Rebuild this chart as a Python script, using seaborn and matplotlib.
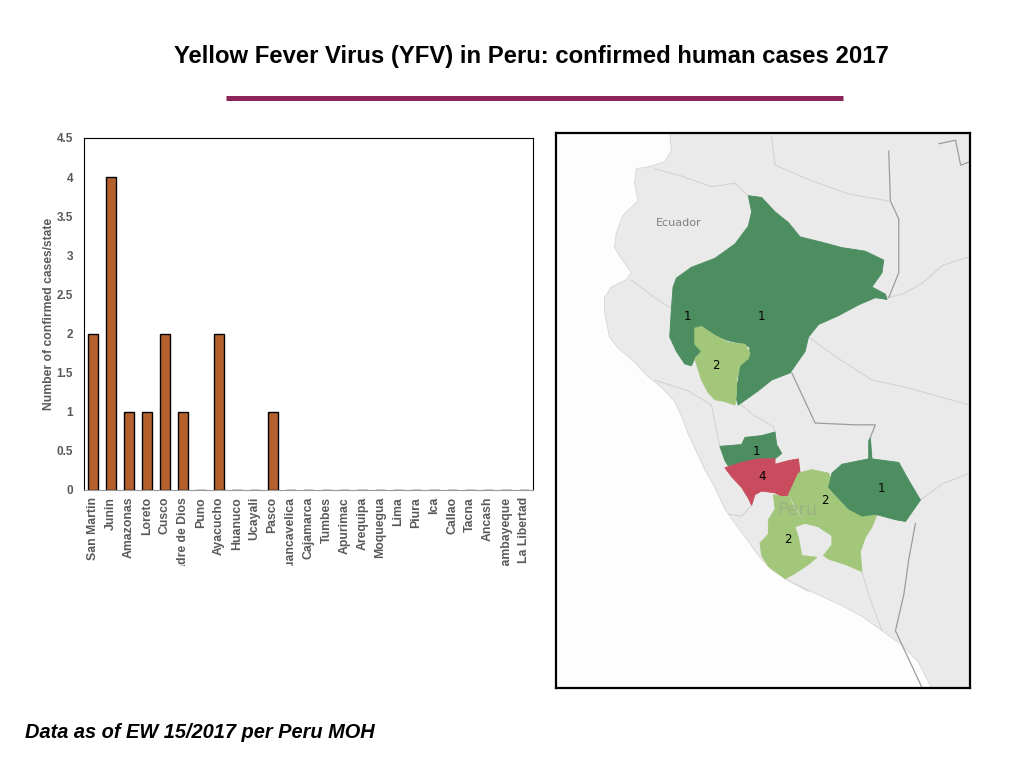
import matplotlib
matplotlib.use("Agg")
import matplotlib.pyplot as plt
import seaborn as sns
import numpy as np
import pandas as pd
from matplotlib.patches import Polygon
from matplotlib.lines import Line2D
from matplotlib.transforms import Bbox

# ---------------- data ----------------
states = ["San Martin", "Junin", "Amazonas", "Loreto", "Cusco", "Madre de Dios",
          "Puno", "Ayacucho", "Huanuco", "Ucayali", "Pasco", "Huancavelica",
          "Cajamarca", "Tumbes", "Apurimac", "Arequipa", "Moquegua", "Lima",
          "Piura", "Ica", "Callao", "Tacna", "Ancash", "Lambayeque", "La Libertad"]
cases = [2, 4, 1, 1, 2, 1, 0, 2, 0, 0, 1, 0, 0, 0, 0, 0, 0, 0, 0, 0, 0, 0, 0, 0, 0]
yticks = [0, 0.5, 1, 1.5, 2, 2.5, 3, 3.5, 4, 4.5]
title = "Yellow Fever Virus (YFV) in Peru: confirmed human cases 2017"
footer = "Data as of EW 15/2017 per Peru MOH"
ylabel = "Number of confirmed cases/state"
map_states = ["Amazonas", "Loreto", "San Martin", "Pasco", "Junin", "Cusco",
              "Ayacucho", "Madre de Dios"]
value_colors = {1: "#4D8E61", 2: "#A3C77A", 4: "#C94B5E"}

df = pd.DataFrame({"state": states, "cases": cases})
case_of = dict(zip(states, cases))

# ---------------- map geometry (schematic outlines) ----------------
shapes = {
    "Amazonas": [(365, 415), (410, 385), (430, 390), (425, 480), (430, 560), (420, 560),
                 (440, 600), (455, 620), (420, 640), (410, 660), (390, 655), (365, 620),
                 (345, 580), (350, 500), (355, 440)],
    "Loreto": [(410, 385), (480, 360), (540, 320), (580, 270), (590, 230), (580, 185),
               (620, 190), (660, 230), (700, 260), (735, 300), (800, 315), (860, 330),
               (930, 340), (985, 365), (980, 400), (950, 440), (990, 460), (995, 475),
               (960, 470), (910, 490), (850, 520), (790, 545), (760, 580), (750, 620),
               (720, 660), (705, 680), (650, 700), (610, 730), (580, 750), (550, 770),
               (540, 740), (550, 700), (555, 660), (580, 640), (585, 610), (570, 600),
               (520, 590), (480, 575), (430, 560), (425, 480), (430, 390)],
    "San Martin": [(420, 555), (440, 550), (480, 575), (520, 595), (570, 600), (585, 625),
                   (580, 640), (555, 660), (545, 700), (545, 740), (540, 770), (510, 760),
                   (480, 755), (460, 735), (440, 700), (430, 670), (420, 640), (440, 620),
                   (420, 600)],
    "Pasco": [(495, 885), (560, 880), (570, 860), (620, 855), (660, 845), (665, 880),
              (680, 905), (660, 920), (620, 920), (580, 930), (520, 940), (510, 925)],
    "Junin": [(510, 945), (560, 930), (610, 920), (660, 920), (660, 935), (700, 925),
              (730, 920), (735, 960), (725, 1000), (720, 1020), (680, 1025), (660, 1015),
              (620, 1010), (600, 1020), (590, 1050), (580, 1030), (560, 1000), (530, 970)],
    "Cusco": [(700, 1020), (730, 960), (770, 950), (820, 960), (830, 980), (820, 1000),
              (850, 1030), (880, 1060), (920, 1080), (965, 1075), (950, 1110), (930, 1140),
              (915, 1180), (920, 1235), (870, 1215), (820, 1200), (805, 1190), (830, 1160),
              (830, 1135), (790, 1110), (750, 1100), (720, 1050)],
    "Ayacucho": [(655, 1020), (680, 1025), (700, 1025), (720, 1060), (750, 1100),
                 (720, 1110), (730, 1140), (740, 1190), (785, 1195), (760, 1215),
                 (720, 1240), (690, 1255), (640, 1220), (620, 1190), (615, 1155),
                 (640, 1130), (640, 1090), (660, 1060)],
    "Madre de Dios": [(940, 870), (945, 860), (950, 920), (1030, 930), (1060, 980),
                      (1095, 1035), (1050, 1095), (1020, 1090), (960, 1075), (920, 1080),
                      (880, 1060), (850, 1030), (820, 1000), (830, 960), (860, 935),
                      (940, 920)],
}
label_pos = {"Amazonas": (397, 522), "Loreto": (620, 522), "San Martin": (483, 658),
             "Pasco": (603, 900), "Junin": (620, 970), "Cusco": (808, 1037),
             "Ayacucho": (697, 1145), "Madre de Dios": (978, 1003)}
coast = [(345, 10), (350, 60), (330, 90), (280, 105), (245, 110), (240, 150), (250, 200),
         (205, 240), (185, 290), (180, 330), (200, 360), (230, 400), (215, 420), (170, 440),
         (150, 470), (150, 510), (165, 580), (190, 610), (240, 650), (280, 690), (320, 720),
         (360, 760), (380, 800), (400, 850), (425, 900), (450, 950), (480, 1000), (510, 1060),
         (540, 1100), (580, 1150), (610, 1190), (650, 1230), (710, 1265), (790, 1300),
         (860, 1330), (920, 1360), (980, 1400), (1040, 1440), (1090, 1490), (1130, 1565),
         (1250, 1565), (1250, 5)]
dark_borders = [
    [(1000, 60), (1005, 200), (1030, 250), (1030, 400), (1000, 470)],
    [(710, 680), (740, 740), (780, 820), (900, 825), (960, 825), (945, 860)],
    [(1080, 1100), (1060, 1200), (1045, 1300), (1020, 1400), (1060, 1480), (1100, 1560)],
    [(1150, 40), (1200, 30), (1215, 100), (1243, 90)],
]
light_borders = [
    [(300, 110), (380, 130), (470, 160), (540, 150), (580, 185)],
    [(230, 420), (300, 470), (350, 500)],
    [(995, 470), (1040, 460), (1100, 430), (1160, 380), (1243, 355)],
    [(760, 580), (850, 640), (950, 700), (1050, 720), (1243, 770)],
    [(560, 770), (600, 800), (655, 830), (660, 845)],
    [(1095, 1035), (1160, 990), (1243, 960)],
    [(300, 700), (400, 730), (470, 770), (495, 885)],
    [(590, 1050), (560, 1080), (520, 1075)],
    [(920, 1235), (940, 1300), (980, 1400)],
    [(690, 1255), (760, 1290)],
    [(650, 20), (660, 100), (760, 140), (880, 180), (1000, 200)],
]

# ---------------- figure ----------------
sns.set_theme(style="white")
plt.rcParams["font.family"] = ["Liberation Sans", "DejaVu Sans"]
W, H = 1024, 768
fig = plt.figure(figsize=(W / 100, H / 100), dpi=100)
fig.patch.set_facecolor("white")

grey = "#595959"

# bar chart
ax = fig.add_axes([84 / W, 1 - 490 / H, (533 - 84) / W, (490 - 138) / H])
sns.barplot(data=df, x="state", y="cases", color="#B5612D", saturation=1,
            edgecolor="black", linewidth=1, width=0.55, ax=ax)
ax.set_xlim(-0.5, len(states) - 0.5)
ax.set_ylim(0, 4.5)
ax.set_yticks(yticks)
ax.set_yticklabels([f"{t:g}" for t in yticks])
ax.set_xlabel("")
ax.set_ylabel(ylabel, fontsize=8.7, fontweight="bold", color=grey, labelpad=1)
ax.tick_params(axis="y", length=0, pad=8, labelsize=8.5, labelcolor=grey)
ax.tick_params(axis="x", length=0, pad=5, labelsize=8.8, labelcolor=grey, rotation=90)
for lab in ax.get_yticklabels():
    lab.set_fontweight("bold")
clip = Bbox.from_extents(0, H - 566, W, H)
for lab in ax.get_xticklabels():
    lab.set_fontweight("bold")
    lab.set_va("top")
    lab.set_clip_box(clip)
    lab.set_clip_on(True)
for side in ["left", "top", "right"]:
    ax.spines[side].set_visible(True)
    ax.spines[side].set_color("black")
    ax.spines[side].set_linewidth(0.8)
ax.spines["bottom"].set_color("#9a9a9a")
ax.spines["bottom"].set_linewidth(0.8)
ax.grid(False)

# map panel
mx = fig.add_axes([556 / W, 1 - 688 / H, (970 - 556) / W, (688 - 133) / H])
mx.set_xlim(5, 1243)
mx.set_ylim(1560, 10)
mx.set_facecolor("#FDFDFD")
mx.add_patch(Polygon(coast, closed=True, facecolor="#EAEAEA", edgecolor="#D6D6D6",
                     linewidth=0.6, zorder=1))
for ln in light_borders:
    xs, ys = zip(*ln)
    mx.plot(xs, ys, color="#D0D0D0", linewidth=0.7, zorder=2)
for ln in dark_borders:
    xs, ys = zip(*ln)
    mx.plot(xs, ys, color="#9C9C9C", linewidth=0.9, zorder=2)
for name in map_states:
    v = case_of[name]
    mx.add_patch(Polygon(shapes[name], closed=True, facecolor=value_colors[v],
                         edgecolor=value_colors[v], linewidth=0.6, zorder=3))
mx.text(372, 260, "Ecuador", fontsize=8, color="#808080", ha="center", va="center",
        family=["DejaVu Sans"], zorder=4)
mx.text(728, 1062, "Peru", fontsize=13, color="#9AAE86", alpha=0.8, ha="center",
        va="center", family=["DejaVu Sans"], zorder=4)
for name in map_states:
    x, y = label_pos[name]
    mx.text(x, y, f"{case_of[name]}", fontsize=8.5, color="black", ha="center",
            va="center", family=["DejaVu Sans"], zorder=5)
mx.set_xticks([])
mx.set_yticks([])
for s in mx.spines.values():
    s.set_visible(True)
    s.set_color("black")
    s.set_linewidth(1.6)

# title, rule, footer
fig.text(531 / W, 1 - 57 / H, title, ha="center", va="center", fontsize=17.2,
         fontweight="bold", color="black")
fig.add_artist(Line2D([226 / W, 843 / W], [1 - 98 / H, 1 - 98 / H], color="#8B2457",
                      linewidth=3.6, solid_capstyle="butt"))
fig.text(25 / W, 1 - 733 / H, footer, ha="left", va="center", fontsize=14.4,
         fontweight="bold", fontstyle="italic", color="black")

fig.savefig("out.png", dpi=100, facecolor="white")
